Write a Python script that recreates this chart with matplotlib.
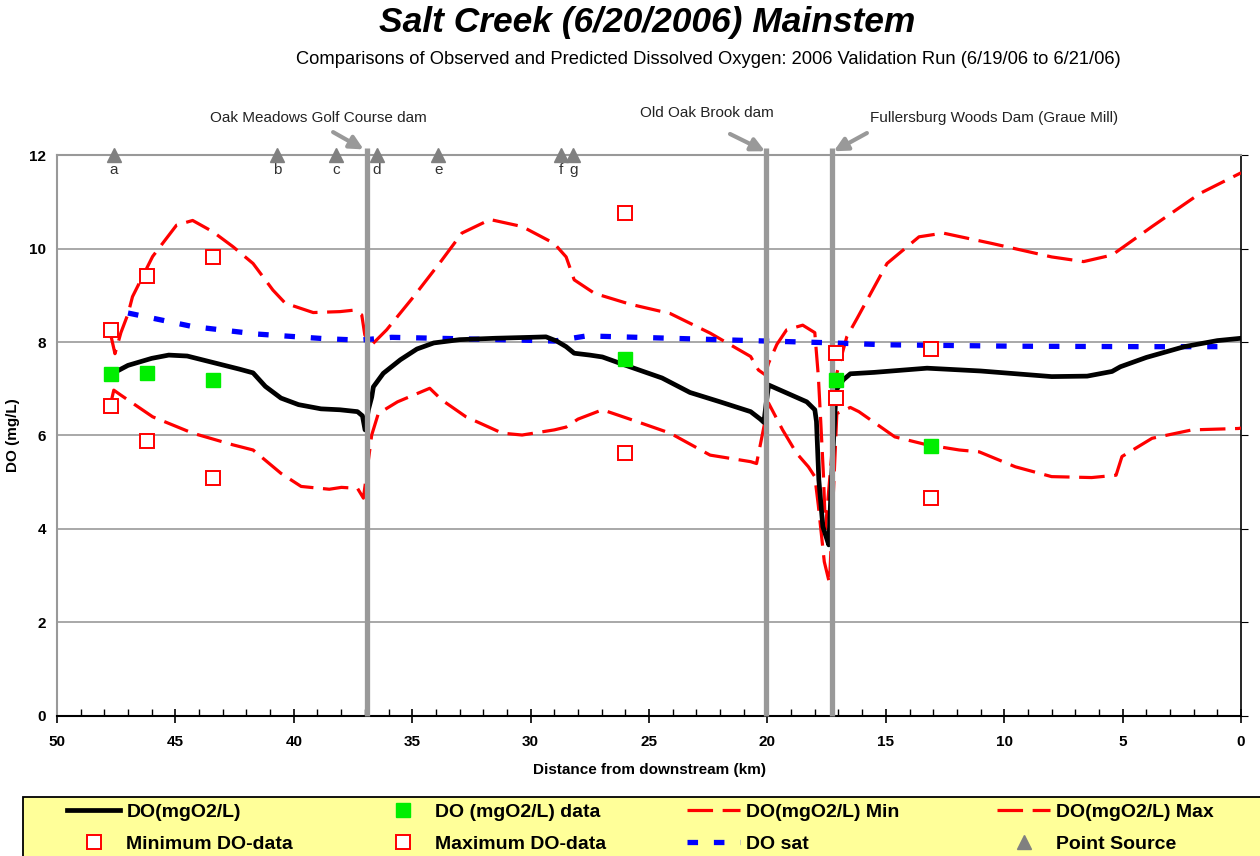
import numpy as np
import matplotlib
matplotlib.use('Agg')
import matplotlib.pyplot as plt
from matplotlib.lines import Line2D
from matplotlib.patches import Rectangle

plt.rcParams['font.family'] = ['Liberation Sans', 'DejaVu Sans']

# Modelo DO (linea negra)
do_km = [47.75, 47.0, 46.0, 45.28, 44.5, 43.4, 42.3, 41.72, 41.2, 40.54, 39.8, 38.85, 38.05, 37.31,
         37.1, 36.99, 36.85, 36.71, 36.64, 36.22, 35.5, 34.8, 34.09, 33.0, 31.5, 30.0, 29.35, 28.9,
         28.5, 28.16, 27.5, 26.97, 25.81, 24.45, 23.27, 22.0, 20.71, 20.3, 20.15, 20.05, 19.95, 18.34,
         18.0, 17.93, 17.83, 17.66, 17.5, 17.41, 17.3, 17.1, 16.8, 16.5, 15.5, 13.26, 11.0, 9.0, 8.0,
         6.5, 5.45, 5.1, 4.0, 2.4, 1.0, 0.0]
do_val = [7.30, 7.50, 7.65, 7.72, 7.70, 7.56, 7.42, 7.34, 7.05, 6.80, 6.66, 6.57, 6.55, 6.51,
          6.42, 6.12, 6.55, 6.82, 7.04, 7.33, 7.62, 7.85, 7.98, 8.05, 8.08, 8.10, 8.11, 8.02,
          7.90, 7.76, 7.72, 7.68, 7.47, 7.23, 6.92, 6.72, 6.51, 6.35, 6.28, 6.70, 7.08, 6.72,
          6.55, 6.30, 5.05, 4.05, 3.80, 3.66, 5.00, 6.97, 7.19, 7.32, 7.35, 7.44, 7.38, 7.30, 7.26,
          7.27, 7.37, 7.47, 7.67, 7.90, 8.03, 8.08]

# DO maximo
max_km = [47.75, 47.55, 47.3, 47.0, 46.81, 45.96, 44.95, 44.27, 43.42, 42.57, 41.72, 40.88, 40.36,
          39.18, 38.05, 37.49, 37.13, 37.0, 36.71, 36.08, 34.94, 33.75, 32.9, 31.71, 30.36, 29.01,
          28.5, 28.16, 27.3, 25.81, 24.11, 22.42, 20.71, 20.38, 20.1, 19.95, 19.6, 19.19, 18.51,
          18.0, 17.85, 17.75, 17.64, 17.55, 17.3, 17.07, 16.65, 16.22, 14.95, 13.6, 12.58, 10.54,
          8.0, 6.65, 5.45, 3.76, 1.73, 0.0]
max_val = [8.20, 7.75, 8.20, 8.60, 8.97, 9.83, 10.50, 10.60, 10.36, 10.04, 9.68, 9.11, 8.83,
           8.63, 8.65, 8.68, 8.58, 8.15, 7.94, 8.26, 8.97, 9.75, 10.33, 10.62, 10.47, 10.11,
           9.82, 9.33, 9.04, 8.81, 8.61, 8.19, 7.69, 7.40, 7.30, 7.55, 7.95, 8.26, 8.36,
           8.20, 7.26, 6.30, 5.20, 4.00, 5.50, 7.33, 8.11, 8.50, 9.68, 10.25, 10.33, 10.11,
           9.82, 9.72, 9.86, 10.47, 11.18, 11.62]

# DO minimo
min_km = [47.7, 47.6, 47.32, 45.96, 44.27, 42.57, 41.72, 40.54, 39.69, 38.5, 37.99, 37.31, 37.06,
          36.71, 36.43, 35.62, 34.26, 33.75, 32.73, 31.2, 30.36, 29.0, 28.5, 28.0, 26.97, 25.81,
          24.11, 22.42, 20.71, 20.46, 19.95, 19.36, 18.77, 18.27, 18.0, 17.85, 17.6, 17.38, 17.07,
          16.5, 16.14, 14.62, 13.26, 11.9, 11.06, 9.53, 8.0, 6.31, 5.28, 5.03, 3.76, 2.07, 0.11, 0.0]
min_val = [6.75, 6.97, 6.87, 6.40, 6.05, 5.80, 5.69, 5.19, 4.91, 4.85, 4.89, 4.87, 4.66,
           6.01, 6.47, 6.72, 7.01, 6.76, 6.40, 6.05, 6.01, 6.12, 6.18, 6.35, 6.55, 6.35,
           6.05, 5.58, 5.44, 5.40, 6.69, 6.12, 5.62, 5.33, 5.12, 4.50, 3.30, 2.84, 6.47,
           6.60, 6.51, 5.97, 5.80, 5.69, 5.65, 5.33, 5.12, 5.10, 5.15, 5.55, 5.94, 6.12, 6.15, 6.16]

# DO saturacion
sat_km = [47.0, 44.27, 41.55, 38.68, 37.2, 35.87, 33.07, 30.36, 29.0, 27.64, 26.2, 24.79, 20.71,
          17.83, 14.95, 9.53, 3.93, 1.0]
sat_val = [8.62, 8.33, 8.17, 8.07, 8.04, 8.10, 8.07, 8.04, 8.02, 8.13, 8.11, 8.09, 8.03,
           7.99, 7.94, 7.91, 7.90, 7.90]

# Datos observados
obs_km = [47.72, 46.2, 43.41, 26.01, 17.1, 13.09]
obs_do = [7.32, 7.34, 7.19, 7.64, 7.19, 5.78]
obs_min = [6.63, 5.88, 5.09, 5.63, 6.80, 4.66]
obs_max = [8.26, 9.41, 9.82, 10.76, 7.76, 7.85]

# Fuentes puntuales y presas
ps_km = [47.6, 40.7, 38.2, 36.5, 33.9, 28.7, 28.2]
ps_lab = ['a', 'b', 'c', 'd', 'e', 'f', 'g']
dam_km = [36.9, 20.05, 17.27]

fig = plt.figure(figsize=(12.6, 8.56), dpi=100)
ax = fig.add_axes([0.0452, 0.1636, 0.9398, 0.6553])

red = '#FF0000'
ax.plot(min_km, min_val, color=red, lw=2.3, dashes=(8, 3), zorder=3)
ax.plot(max_km, max_val, color=red, lw=2.3, dashes=(8, 3), zorder=3)
ax.plot(sat_km, sat_val, color='#0000FF', lw=3.8, dashes=(2, 3), zorder=3)
ax.plot(do_km, do_val, color='black', lw=3.4, zorder=4)

for d in dam_km:
    ax.plot([d, d], [0, 12.15], color='#999999', lw=3.8, zorder=5, clip_on=False,
            solid_capstyle='butt')

ax.plot(obs_km, obs_do, 's', color='#00EE00', ms=10, zorder=6)
ax.plot(obs_km, obs_min, 's', mfc='white', mec=red, mew=1.4, ms=10, zorder=6)
ax.plot(obs_km, obs_max, 's', mfc='white', mec=red, mew=1.4, ms=10, zorder=6)

ax.plot(ps_km, [12] * len(ps_km), '^', color='#808080', ms=9.5, zorder=7, clip_on=False)
for k, lab in zip(ps_km, ps_lab):
    ax.text(k, 11.68, lab, ha='center', va='center', fontsize=11, color='#333333')

# Etiquetas de presas
gray = '#999999'
arrow = dict(arrowstyle='-|>', color=gray, lw=3, mutation_scale=20, shrinkA=0, shrinkB=0)
ax.text(38.98, 12.79, 'Oak Meadows Golf Course dam', ha='center', va='center', fontsize=11,
        color='#222222')
ax.annotate('', xy=(37.05, 12.12), xytext=(38.34, 12.49), annotation_clip=False, arrowprops=arrow)
ax.text(22.55, 12.9, 'Old Oak Brook dam', ha='center', va='center', fontsize=11, color='#222222')
ax.annotate('', xy=(20.1, 12.08), xytext=(21.58, 12.45), annotation_clip=False, arrowprops=arrow)
ax.text(15.67, 12.79, 'Fullersburg Woods Dam (Graue Mill)', ha='left', va='center', fontsize=11,
        color='#222222')
ax.annotate('', xy=(17.2, 12.08), xytext=(15.8, 12.47), annotation_clip=False, arrowprops=arrow)

ax.set_xlim(50, 0)
ax.set_ylim(0, 12)
ax.set_xticks(np.arange(0, 51, 5))
ax.set_xticks(np.arange(0, 51, 1), minor=True)
ax.set_yticks(np.arange(0, 13, 2))
ax.yaxis.grid(True, color='#999999', lw=1.2)
ax.set_axisbelow(True)
for s in ['left', 'top']:
    ax.spines[s].set_color('#999999')
    ax.spines[s].set_linewidth(1.5)
ax.spines['bottom'].set_linewidth(1.5)
ax.spines['right'].set_linewidth(1.2)
ax.tick_params(axis='x', which='major', direction='inout', length=10, width=1.2, pad=9,
               labelsize=11)
ax.tick_params(axis='x', which='minor', direction='in', length=5, width=1)
ax.tick_params(axis='y', left=False, right=True, direction='out', length=5, labelsize=11, pad=3)
for t in ax.get_xticklabels() + ax.get_yticklabels():
    t.set_fontweight('bold')
ax.set_xlabel('Distance from downstream (km)', fontsize=11, fontweight='bold', labelpad=10)
ax.set_ylabel('DO (mg/L)', fontsize=11, fontweight='bold')
ax.yaxis.set_label_coords(-0.031, 0.5)

fig.text(0.5135, 0.974, 'Salt Creek (6/20/2006) Mainstem', ha='center', va='center',
         fontsize=25.5, fontweight='heavy', fontstyle='italic')
fig.text(0.562, 0.930,
         'Comparisons of Observed and Predicted Dissolved Oxygen: 2006 Validation Run (6/19/06 to 6/21/06)',
         ha='center', va='center', fontsize=13.2)

# Leyenda: caja amarilla y cuatro columnas
fig.patches.append(Rectangle((23 / 1260, -0.01), 1.0, 0.01 + 59 / 856, transform=fig.transFigure,
                             facecolor='#FFFF99', edgecolor='black', lw=1.3, zorder=0))
h_do = Line2D([], [], color='black', lw=3.4)
h_obs = Line2D([], [], marker='s', ls='none', color='#00EE00', ms=10)
h_min = Line2D([], [], color=red, lw=2.3, dashes=(8, 3))
h_max = Line2D([], [], color=red, lw=2.3, dashes=(8, 3))
h_mind = Line2D([], [], marker='s', ls='none', mfc='white', mec=red, mew=1.4, ms=10)
h_maxd = Line2D([], [], marker='s', ls='none', mfc='white', mec=red, mew=1.4, ms=10)
h_sat = Line2D([], [], color='#0000FF', lw=3.8, dashes=(2, 3))
h_ps = Line2D([], [], marker='^', ls='none', color='#808080', ms=9.5)
columns = [([h_do, h_mind], ['DO(mgO2/L)', 'Minimum DO-data'], 67),
           ([h_obs, h_maxd], ['DO (mgO2/L) data', 'Maximum DO-data'], 376),
           ([h_min, h_sat], ['DO(mgO2/L) Min', 'DO sat'], 687),
           ([h_max, h_ps], ['DO(mgO2/L) Max', 'Point Source'], 997)]
for hs, ls, x0 in columns:
    lg = fig.legend(hs, ls, loc='center left', bbox_to_anchor=(x0 / 1260, 1 - 828 / 856),
                    frameon=False, handlelength=2.75, handletextpad=0.3, borderpad=0,
                    borderaxespad=0, labelspacing=0.72, prop={'weight': 'bold', 'size': 14})

fig.savefig('out.png', dpi=100)
